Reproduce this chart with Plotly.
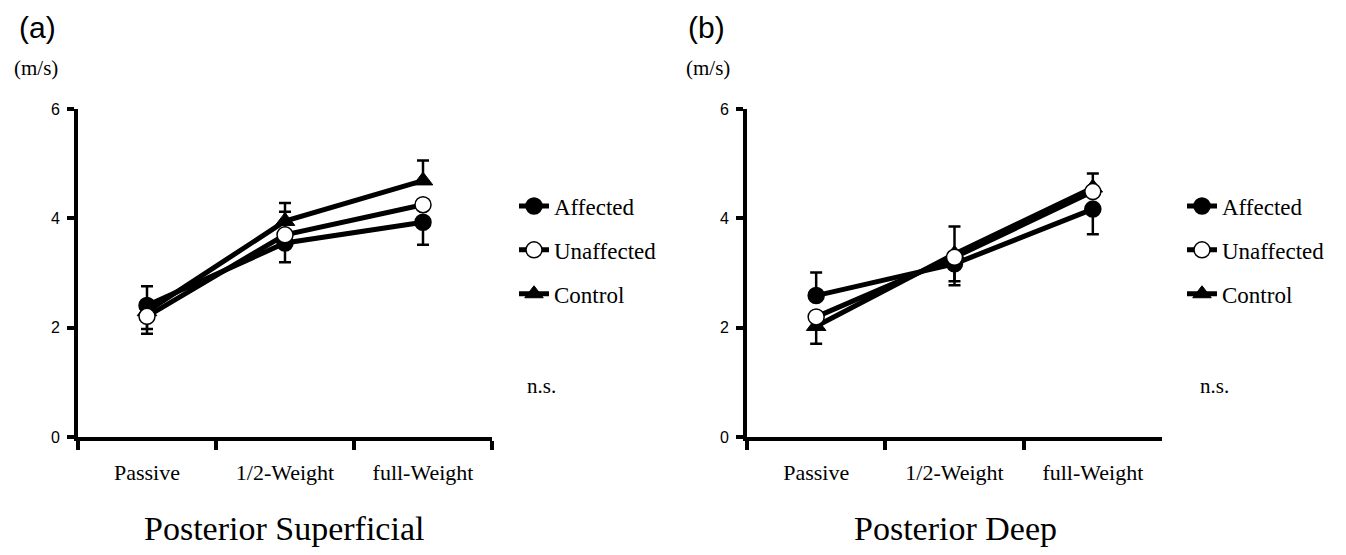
import plotly.graph_objects as go

# figure slightly smaller than the window so the page does not overflow (body margin 8px)
OFF = 8
W, H = 1346 - 2 * OFF, 555 - 2 * OFF

conditions = ["Passive", "1/2-Weight", "full-Weight"]
groups = ["Affected", "Unaffected", "Control"]

# Panel (a) Posterior Superficial
sup_affected = [2.41, 3.55, 3.93]
sup_unaffected = [2.21, 3.70, 4.25]
sup_control = [2.30, 3.95, 4.69]
sup_affected_err_up = [0.35, 0.0, 0.0]
sup_affected_err_dn = [0.0, 0.35, 0.41]
sup_unaffected_err_up = [0.0, 0.42, 0.0]
sup_unaffected_err_dn = [0.32, 0.0, 0.0]
sup_control_err_up = [0.0, 0.33, 0.37]
sup_control_err_dn = [0.32, 0.0, 0.0]

# Panel (b) Posterior Deep
deep_affected = [2.59, 3.17, 4.17]
deep_unaffected = [2.20, 3.29, 4.49]
deep_control = [2.03, 3.35, 4.56]
deep_affected_err_up = [0.42, 0.0, 0.0]
deep_affected_err_dn = [0.0, 0.39, 0.46]
deep_unaffected_err_up = [0.0, 0.0, 0.0]
deep_unaffected_err_dn = [0.0, 0.44, 0.0]
deep_control_err_up = [0.0, 0.50, 0.26]
deep_control_err_dn = [0.32, 0.0, 0.0]

y_ticks = [0, 2, 4, 6]

SERIF = "Liberation Serif"
SANS = "Liberation Sans"

def px(x):
    return (x - OFF) / W

def py(y):
    return 1 - (y - OFF) / H

styles = {
    "Affected": dict(symbol="circle", size=16, color="black", line=dict(color="black", width=1.5)),
    "Unaffected": dict(symbol="circle", size=16, color="white", line=dict(color="black", width=1.5)),
    "Control": dict(symbol="triangle-up", size=17, color="black", line=dict(color="black", width=1)),
}
rank = {"Affected": 1, "Unaffected": 2, "Control": 3}

fig = go.Figure()

panels = [
    ("x", "y", "legend", {
        "Affected": (sup_affected, sup_affected_err_up, sup_affected_err_dn),
        "Unaffected": (sup_unaffected, sup_unaffected_err_up, sup_unaffected_err_dn),
        "Control": (sup_control, sup_control_err_up, sup_control_err_dn),
    }),
    ("x2", "y2", "legend2", {
        "Affected": (deep_affected, deep_affected_err_up, deep_affected_err_dn),
        "Unaffected": (deep_unaffected, deep_unaffected_err_up, deep_unaffected_err_dn),
        "Control": (deep_control, deep_control_err_up, deep_control_err_dn),
    }),
]

draw_order = ["Control", "Affected", "Unaffected"]
for xa, ya, lg, data in panels:
    for g in draw_order:
        vals, up, dn = data[g]
        fig.add_trace(go.Scatter(
            x=conditions, y=vals, name=g, mode="lines+markers",
            xaxis=xa, yaxis=ya, legend=lg, legendgroup=lg + g, legendrank=rank[g],
            line=dict(color="black", width=5),
            marker=styles[g],
            error_y=dict(type="data", symmetric=False, array=up, arrayminus=dn,
                         color="black", thickness=2.5, width=6),
            cliponaxis=False,
        ))

xdom_a = [px(78), px(492)]
xdom_b = [px(747), px(1162)]
ydom = [py(443), py(104)]

xcommon = dict(type="category", categoryorder="array", categoryarray=conditions,
               range=[-0.5, 2.5], showline=True, linewidth=4, linecolor="black",
               ticks="outside", tickson="boundaries", ticklen=9, tickwidth=4, tickcolor="black",
               showgrid=False, zeroline=False,
               tickfont=dict(family=SERIF, size=22, color="black"), ticklabelstandoff=12)
ycommon = dict(range=[0, 6], tickvals=y_ticks, showline=True, linewidth=4, linecolor="black",
               ticks="outside", ticklen=7, tickwidth=4, tickcolor="black",
               showgrid=False, zeroline=False,
               tickfont=dict(family=SANS, size=16, color="black"), ticklabelstandoff=4)

legcommon = dict(font=dict(family=SERIF, size=23, color="black"), bgcolor="rgba(0,0,0,0)",
                 tracegroupgap=11, traceorder="grouped", xanchor="left", yanchor="top",
                 itemsizing="trace")

fig.update_layout(
    width=W, height=H, margin=dict(l=0, r=0, t=0, b=0),
    paper_bgcolor="white", plot_bgcolor="white",
    xaxis=dict(domain=xdom_a, anchor="y", **xcommon),
    yaxis=dict(domain=ydom, anchor="x", **ycommon),
    xaxis2=dict(domain=xdom_b, anchor="y2", **xcommon),
    yaxis2=dict(domain=ydom, anchor="x2", **ycommon),
    legend=dict(x=px(514), y=py(182), **legcommon),
    legend2=dict(x=px(1182), y=py(182), **legcommon),
)

annots = [
    ("(a)", 37, 20, SANS, 30),
    ("(m/s)", 36, 62, SERIF, 21),
    ("(b)", 706, 20, SANS, 30),
    ("(m/s)", 708, 62, SERIF, 21),
    ("n.s.", 541, 390, SERIF, 21),
    ("n.s.", 1214, 390, SERIF, 21),
    ("Posterior Superficial", 284, 537, SERIF, 34),
    ("Posterior Deep", 955, 537, SERIF, 34),
]
for text, x, y, fam, size in annots:
    fig.add_annotation(text=text, x=px(x), y=py(y), xref="paper", yref="paper",
                       xanchor="center", yanchor="middle", showarrow=False,
                       font=dict(family=fam, size=size, color="black"))

fig.write_html("out.html")
